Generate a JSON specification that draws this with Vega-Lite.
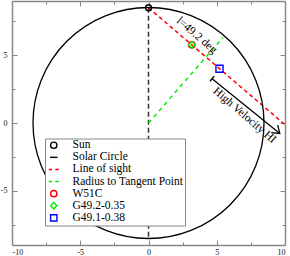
{
  "$schema": "https://vega.github.io/schema/vega-lite/v6.json",
  "width": 273,
  "height": 244,
  "autosize": {"type": "none"},
  "padding": {"left": 12, "top": 1, "right": 5, "bottom": 11},
  "background": "white",
  "config": {
    "view": {"stroke": null},
    "font": "Liberation Serif",
    "axis": {
      "domainColor": "#888888",
      "domainWidth": 1.5,
      "tickColor": "#888888",
      "tickWidth": 1,
      "labelFont": "Liberation Serif",
      "labelFontSize": 8,
      "labelColor": "#111111",
      "grid": false
    }
  },
  "datasets": {
    "segs": [
      {"seg": "sunline", "x": 0, "y": 8.5, "x2": 0, "y2": -8.5},
      {"seg": "radius", "x": 0, "y": 0, "x2": 5.45, "y2": 6.3},
      {"seg": "los", "x": 0, "y": 8.5, "x2": 10, "y2": -0.13},
      {"seg": "hv", "x": 4.66, "y": 3.27, "x2": 9.62, "y2": -0.77},
      {"seg": "hv", "x": 4.82, "y": 3.46, "x2": 4.5, "y2": 3.08}
    ],
    "circle": [{"x": 0, "y": 0}],
    "markers": [
      {"name": "Sun", "x": 0, "y": 8.5},
      {"name": "W51C", "x": 3.17, "y": 5.77},
      {"name": "G49.2-0.35", "x": 3.17, "y": 5.77},
      {"name": "G49.1-0.38", "x": 5.2, "y": 4.0}
    ],
    "arrowhead": [{"x": 9.62, "y": -0.77}],
    "labels": [
      {"text": "l=49.2 deg", "x": 3.52, "y": 6.45},
      {"text": "High Velocity HI", "x": 7.03, "y": 0.55}
    ]
  },
  "layer": [
    {
      "data": {"name": "segs"},
      "transform": [{"filter": "datum.seg === 'sunline'"}],
      "mark": {"type": "rule", "color": "#333333", "strokeWidth": 1.5, "strokeDash": [5, 3]},
      "encoding": {
        "x": {"field": "x", "type": "quantitative", "title": null,
          "scale": {"domain": [-10, 10], "nice": false, "zero": false},
          "axis": {"orient": "bottom", "values": [-10, -7.5, -5, -2.5, 0, 2.5, 5, 7.5, 10],
            "labelExpr": "datum.value % 5 === 0 ? '' + datum.value : ''",
            "tickSize": {"condition": {"test": "datum.value % 5 === 0", "value": -5}, "value": -3},
            "labelPadding": 8}},
        "y": {"field": "y", "type": "quantitative", "title": null,
          "scale": {"domain": [-9, 9], "nice": false, "zero": false},
          "axis": {"orient": "left", "values": [-7.5, -5, -2.5, 0, 2.5, 5, 7.5],
            "labelExpr": "datum.value % 5 === 0 ? '' + datum.value : ''",
            "tickSize": {"condition": {"test": "datum.value % 5 === 0", "value": -5}, "value": -3},
            "labelPadding": 10}},
        "x2": {"field": "x2"},
        "y2": {"field": "y2"}
      }
    },
    {
      "data": {"name": "segs"},
      "transform": [{"filter": "datum.seg === 'radius'"}],
      "mark": {"type": "rule", "color": "#00ee00", "strokeWidth": 1.5, "strokeDash": [4, 4]},
      "encoding": {
        "x": {"field": "x", "type": "quantitative", "title": null,
          "scale": {"domain": [-10, 10], "nice": false, "zero": false},
          "axis": {"orient": "top", "values": [-10, -7.5, -5, -2.5, 0, 2.5, 5, 7.5, 10], "labels": false,
            "tickSize": {"condition": {"test": "datum.value % 5 === 0", "value": -5}, "value": -3}}},
        "y": {"field": "y", "type": "quantitative", "title": null,
          "scale": {"domain": [-9, 9], "nice": false, "zero": false},
          "axis": {"orient": "right", "values": [-7.5, -5, -2.5, 0, 2.5, 5, 7.5], "labels": false,
            "tickSize": {"condition": {"test": "datum.value % 5 === 0", "value": -5}, "value": -3}}},
        "x2": {"field": "x2"},
        "y2": {"field": "y2"}
      }
    },
    {
      "data": {"name": "segs"},
      "transform": [{"filter": "datum.seg === 'los'"}],
      "mark": {"type": "rule", "color": "#ff0000", "strokeWidth": 1.5, "strokeDash": [4, 3]},
      "encoding": {
        "x": {"field": "x", "type": "quantitative", "axis": null},
        "y": {"field": "y", "type": "quantitative", "axis": null},
        "x2": {"field": "x2"},
        "y2": {"field": "y2"}
      }
    },
    {
      "data": {"name": "segs"},
      "transform": [{"filter": "datum.seg === 'hv'"}],
      "mark": {"type": "rule", "color": "#000000", "strokeWidth": 1.3},
      "encoding": {
        "x": {"field": "x", "type": "quantitative", "axis": null},
        "y": {"field": "y", "type": "quantitative", "axis": null},
        "x2": {"field": "x2"},
        "y2": {"field": "y2"}
      }
    },
    {
      "data": {"name": "arrowhead"},
      "mark": {"type": "point", "shape": "M-1,-0.7L0,0L-1,0.7", "filled": false, "color": "#000000", "strokeWidth": 1.3, "size": 196, "angle": 40.8, "opacity": 1},
      "encoding": {
        "x": {"field": "x", "type": "quantitative", "axis": null},
        "y": {"field": "y", "type": "quantitative", "axis": null}
      }
    },
    {
      "data": {"name": "circle"},
      "mark": {"type": "point", "shape": "circle", "filled": false, "color": "#000000", "strokeWidth": 1.3, "size": 53361, "opacity": 1},
      "encoding": {
        "x": {"field": "x", "type": "quantitative", "axis": null},
        "y": {"field": "y", "type": "quantitative", "axis": null}
      }
    },
    {
      "data": {"name": "markers"},
      "mark": {"type": "point", "filled": false, "strokeWidth": 1.4, "opacity": 1},
      "encoding": {
        "x": {"field": "x", "type": "quantitative", "axis": null},
        "y": {"field": "y", "type": "quantitative", "axis": null},
        "color": {"field": "name", "type": "nominal",
          "scale": {"domain": ["Sun", "Solar Circle", "Line of sight", "Radius to Tangent Point", "W51C", "G49.2-0.35", "G49.1-0.38"],
            "range": ["#000000", "#000000", "#ff0000", "#00ee00", "#ff0000", "#00ee00", "#0000ff"]},
          "legend": {
            "title": null,
            "orient": "none",
            "legendX": 33,
            "legendY": 137.5,
            "padding": 1,
            "titlePadding": 0,
            "strokeColor": "#888888",
            "fillColor": "white",
            "labelFont": "Liberation Serif",
            "labelFontSize": 11.5,
            "labelColor": "#000000",
            "labelOffset": 13,
            "symbolOffset": 2,
            "rowPadding": -0.9,
            "symbolSize": 40,
            "symbolStrokeWidth": 1.4
          }},
        "shape": {"field": "name", "type": "nominal",
          "scale": {"domain": ["Sun", "Solar Circle", "Line of sight", "Radius to Tangent Point", "W51C", "G49.2-0.35", "G49.1-0.38"],
            "range": ["circle", "M-1.2,0H1.2", "M-1.6,0H-0.5M0.5,0H1.6", "M-1.6,0H-0.5M0.5,0H1.6", "circle", "diamond", "square"]}},
        "size": {"field": "name", "type": "nominal",
          "scale": {"domain": ["Sun", "W51C", "G49.2-0.35", "G49.1-0.38"], "range": [36, 50, 22, 40]},
          "legend": null}
      }
    },
    {
      "data": {"name": "labels"},
      "mark": {"type": "text", "angle": 40.8, "font": "Liberation Serif", "fontSize": 11.5, "color": "#000000", "align": "center", "baseline": "middle"},
      "encoding": {
        "x": {"field": "x", "type": "quantitative", "axis": null},
        "y": {"field": "y", "type": "quantitative", "axis": null},
        "text": {"field": "text"}
      }
    }
  ],
  "resolve": {"axis": {"x": "independent", "y": "independent"}}
}
